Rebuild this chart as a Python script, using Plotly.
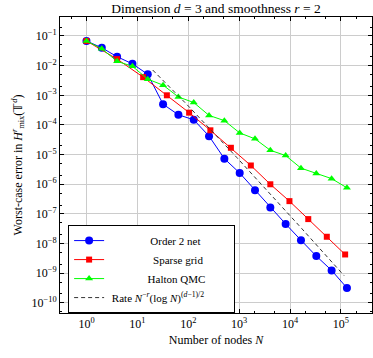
import numpy as np
import plotly.graph_objects as go

# number of nodes and worst-case errors
net_n = [1, 2, 4, 8, 16, 32, 64, 128, 256, 512, 1024, 2048, 4096, 8192,
         16384, 32768, 65536, 131072]
net_err = [0.068, 0.040, 0.020, 0.0115, 0.0051, 5.0e-4, 2.2e-4, 1.5e-4, 4.2e-5,
           7.3e-6, 2.4e-6, 6.3e-7, 1.66e-7, 4.6e-8, 1.3e-8, 3.8e-9, 1.25e-9, 3.2e-10]

sparse_n = [1, 4, 13, 38, 104, 272, 688, 1696, 4096, 9728, 22784, 52736, 120832]
sparse_err = [0.068, 0.0166, 0.0041, 1.0e-3, 2.6e-4, 6.6e-5, 1.7e-5, 4.3e-6,
              1.0e-6, 2.7e-7, 6.7e-8, 1.7e-8, 4.3e-9]

halton_n = net_n
halton_err = [0.068, 0.037, 0.014, 0.0095, 0.0035, 0.0022, 8.8e-4, 5.7e-4, 2.1e-4,
              1.4e-4, 5.4e-5, 3.4e-5, 1.4e-5, 9.3e-6, 3.5e-6, 2.3e-6, 1.55e-6, 7.6e-7]

# tick decades
x_exps = [0, 1, 2, 3, 4, 5]
y_exps = [-1, -2, -3, -4, -5, -6, -7, -8, -9, -10]

# reference rate N^-r (log N)^((d-1)/2) with d=3, r=2
d, r = 3, 2
rate_const = 0.95
rate_start, rate_end = 20, 115000

rate_n = np.logspace(np.log10(rate_start), np.log10(rate_end), 60)
rate_err = rate_const * rate_n ** (-r) * np.log(rate_n) ** ((d - 1) / 2)

FONT = "Liberation Serif"
nb = "\u00a0"


def pow_label(e):
    return "10<sup>" + str(e).replace("-", "−") + "</sup>"


fig = go.Figure()
fig.add_trace(go.Scatter(x=net_n, y=net_err, mode="lines+markers",
                         name=nb * 15 + "Order 2 net",
                         line=dict(color="#0000ff", width=1),
                         marker=dict(symbol="circle", size=8, color="#0000ff")))
fig.add_trace(go.Scatter(x=sparse_n, y=sparse_err, mode="lines+markers",
                         name=nb * 16 + "Sparse grid",
                         line=dict(color="#ff0000", width=1),
                         marker=dict(symbol="square", size=6, color="#ff0000")))
fig.add_trace(go.Scatter(x=halton_n, y=halton_err, mode="lines+markers",
                         name=nb * 14 + "Halton QMC",
                         line=dict(color="#00ff00", width=1),
                         marker=dict(symbol="triangle-up", size=7, color="#00ff00")))
fig.add_trace(go.Scatter(x=rate_n, y=rate_err, mode="lines",
                         name=nb + "Rate <i>N</i><sup>−<i>r</i></sup>(log <i>N</i>)<sup>(<i>d</i>−1)/2</sup>" + nb * 9,
                         line=dict(color="#333333", width=1, dash="4px,3px")))

axis_style = dict(
    type="log", showline=True, linecolor="black", linewidth=1, mirror="allticks",
    ticks="inside", ticklen=4, tickcolor="black", showgrid=True,
    gridcolor="#cccccc", gridwidth=1, zeroline=False, automargin=False,
    tickfont=dict(family=FONT, size=12, color="black"),
    minor=dict(ticks="inside", ticklen=2, tickcolor="black", showgrid=False),
)

fig.update_xaxes(axis_style, range=[-0.52, 5.61],
                 tickvals=[10.0 ** e for e in x_exps],
                 ticktext=[pow_label(e) for e in x_exps],
                 title=dict(text="Number of nodes <i>N</i>", standoff=5,
                            font=dict(family=FONT, size=12, color="black")))
fig.update_yaxes(axis_style, range=[-10.34, -0.36],
                 tickvals=[10.0 ** e for e in y_exps],
                 ticktext=[pow_label(e) for e in y_exps],
                 title=dict(text="Worst-case error in <i>H</i><sup><i>r</i></sup><sub>mix</sub>(𝕋<sup><i>d</i></sup>)",
                            standoff=6, font=dict(family=FONT, size=12, color="black")))

fig.update_layout(
    width=373, height=358,
    margin=dict(l=60, r=1, t=17, b=45, autoexpand=False),
    paper_bgcolor="white", plot_bgcolor="white",
    font=dict(family=FONT, size=12, color="black"),
    title=dict(text="Dimension <i>d</i>" + nb + "=" + nb + "3 and smoothness <i>r</i>" + nb + "=" + nb + "2",
               x=0.5, xref="paper", xanchor="center", y=0.99, yanchor="top",
               font=dict(family=FONT, size=13.5, color="black")),
    legend=dict(x=0.026, y=0.297, xanchor="left", yanchor="top",
                bgcolor="white", bordercolor="black", borderwidth=1,
                itemwidth=30, tracegroupgap=0,
                font=dict(family=FONT, size=11, color="black")),
)

# the page body has a default 8px margin; drop it so the figure fills the window
fig.write_html("out.html", config={"displayModeBar": False},
               post_script="document.body.style.margin = '0';")
